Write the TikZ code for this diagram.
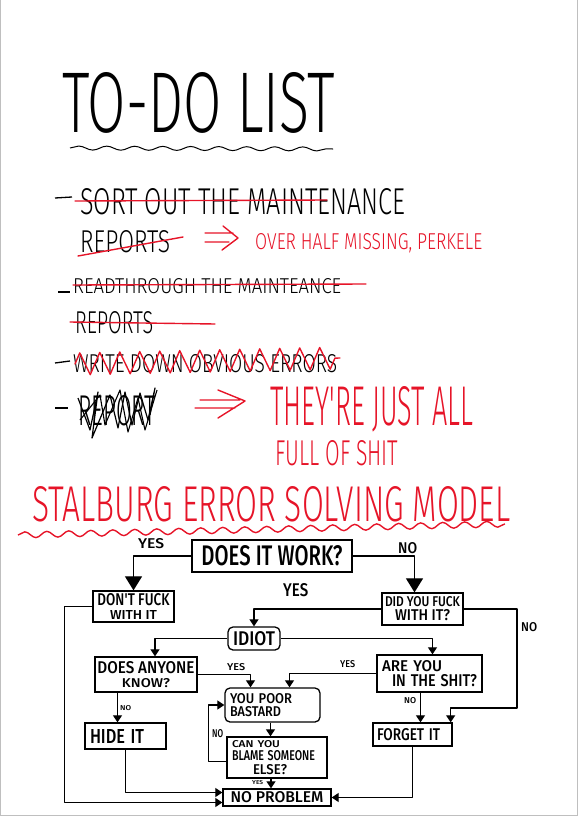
\documentclass[tikz,border=0pt]{standalone}
\usepackage{fontspec}
\usepackage{graphicx}
\usepackage{tikz}
\usetikzlibrary{arrows.meta}
\usetikzlibrary{decorations.pathmorphing}
\tikzset{>=latex}
\newfontfamily\handlight{Fira Sans Light}
\newfontfamily\handbold{Fira Sans Medium}
\definecolor{pen}{RGB}{230,20,40}
\newcommand\penlight[3]{\resizebox{#1pt}{#2pt}{\handlight #3}}
\newcommand\penbold[3]{\resizebox{#1pt}{#2pt}{\handbold #3}}

\begin{document}
\begin{tikzpicture}[x=1pt,y=-1pt,
    box/.style={draw, line width=1.3pt, inner sep=0pt, align=center, font=\fontsize{8}{8}\selectfont},
    flowarrow/.style={line width=1.2pt, line join=round, -{Triangle[width=9pt,length=7pt]}},
    bigarrow/.style={line width=1.2pt, line join=round, -{Triangle[width=17pt,length=14pt]}},
    ink/.style={inner sep=0pt, anchor=base west},
    strike/.style={pen, line width=1.4pt, line cap=round, line join=round}]
    \useasboundingbox (0,0) rectangle (578,816);
    \draw[black!25, line width=1pt] (0.5,0) -- (0.5,815.5) -- (577.5,815.5) -- (577.5,0);

    \node[ink] (title) at (62,132) {\penlight{273}{60}{TO-DO LIST}};
    \draw[line width=1pt, decorate, decoration={snake, amplitude=2pt, segment length=28pt}] (70,148) -- (333,149);

    \draw[line width=1.3pt] (55,198) -- (72,197);
    \node[ink] (sort) at (80,214) {\penlight{325}{26}{SORT OUT THE MAINTENANCE}};
    \node[ink] (reports1) at (80,252) {\penlight{90}{22}{REPORTS}};
    \draw[strike] (75,201) -- (327,200);
    \draw[strike] (78,256) -- (183,237);
    \draw[strike] (205,233) -- (233,233) (205,242) -- (229,242) (223,226) -- (238,238) -- (222,250);
    \node[ink, text=pen] (half) at (255,249) {\penlight{227}{16}{OVER HALF MISSING, PERKELE}};

    \draw[line width=1.3pt] (58,292) -- (70,292);
    \node[ink] (read) at (73,293) {\penlight{268}{15}{READTHROUGH THE MAINTEANCE}};
    \node[ink] (reports2) at (75,333) {\penlight{78}{22}{REPORTS}};
    \draw[strike] (73,285) -- (366,284);
    \draw[strike] (70,322) -- (215,324);

    \draw[line width=1.3pt] (55,363) -- (70,361);
    \node[ink] (write) at (73,372) {\penlight{264}{18}{WRITE DOWN OBVIOUS ERRORS}};
    \draw[strike, decorate, decoration={zigzag, amplitude=11pt, segment length=20pt}] (75,364) -- (340,358);

    \draw[line width=1.3pt] (55,408) -- (68,408);
    \node[ink] (reports3) at (78,425) {\penlight{78}{30}{REPORT}};
    \draw[line width=1.2pt, line join=round] (78,398) -- (90,430) -- (98,392) -- (92,438) -- (110,395) -- (118,428) -- (125,392) -- (132,425) -- (140,393) -- (148,420) -- (155,388) -- (150,415);
    \draw[line width=1.1pt, line join=round] (80,420) -- (100,395) -- (105,425) -- (120,390) -- (128,432) -- (138,398) -- (145,430) -- (157,390);
    \draw[strike] (200,400) -- (240,400) (195,408) -- (235,408) (218,390) -- (245,401) -- (218,418);
    \node[ink, text=pen] (they) at (270,425) {\penlight{203}{39}{THEY'RE JUST ALL}};
    \node[ink, text=pen] (full) at (275,465) {\penlight{123}{25}{FULL OF SHIT}};

    \node[ink, text=pen] (model) at (32,521) {\penlight{478}{35}{STALBURG ERROR SOLVING MODEL}};
    \draw[pen, line width=1.4pt, decorate, decoration={snake, amplitude=3pt, segment length=22pt}] (18,535) -- (505,524);

    \node[box, minimum width=160pt, minimum height=32pt] (work) at (272,556) {\penbold{141}{20}{DOES IT WORK?}};
    \node[box, minimum width=81pt, minimum height=31pt] (dontfuck) at (133.5,606.5) {\penbold{72}{12}{DON'T FUCK}\\[3pt]\penbold{47}{9}{WITH IT}};
    \node[box, minimum width=81pt, minimum height=32pt] (didfuck) at (422.5,609) {\penbold{75}{10}{DID YOU FUCK}\\[2pt]\penbold{55}{11}{WITH IT?}};
    \node[box, rounded corners=5pt, minimum width=52pt, minimum height=23pt] (idiot) at (254,638.5) {\penbold{42}{14}{IDIOT}};
    \node[box, minimum width=102pt, minimum height=35pt] (anyone) at (146,674.5) {\penbold{97}{12}{DOES ANYONE}\\[3pt]\penbold{48}{9}{KNOW?}};
    \node[box, minimum width=105pt, minimum height=37pt, inner xsep=5pt, text width=95pt, align=left] (inshit) at (429.5,673.5) {\penbold{60}{11}{ARE YOU}\\[2pt]\hspace*{10pt}\penbold{85}{12}{IN THE SHIT?}};
    \node[box, rounded corners=5pt, minimum width=95pt, minimum height=34pt, inner xsep=5pt, text width=85pt, align=left] (bastard) at (272.5,705) {\penbold{62}{10}{YOU POOR}\\[2pt]\penbold{51}{10}{BASTARD}};
    \node[box, minimum width=81pt, minimum height=26pt, inner xsep=5pt, text width=71pt, align=left] (hideit) at (125.5,736) {\penbold{54}{14}{HIDE IT}};
    \node[box, minimum width=79pt, minimum height=23pt, inner xsep=4pt, text width=71pt, align=left] (forget) at (412.5,734.5) {\penbold{63}{12}{FORGET IT}};
    \node[box, minimum width=100pt, minimum height=41pt, inner xsep=5pt, text width=90pt, align=left] (blame) at (277,757.5) {\penbold{48}{7}{CAN YOU}\\[2pt]\penbold{83}{10}{BLAME SOMEONE}\\[3pt]\hspace*{21pt}\penbold{34}{10}{ELSE?}};
    \node[box, minimum width=108pt, minimum height=17pt] (noproblem) at (277,797.5) {\penbold{93}{11}{NO PROBLEM}};
    \coordinate (noturn) at (517,708);

    \node[ink] (yes1) at (138,548) {\penbold{26}{10}{YES}};
    \node[ink] (no1) at (398,553) {\penbold{19}{11}{NO}};
    \node[ink] (yes2) at (283,596) {\penbold{25}{13}{YES}};
    \node[ink] (no2) at (521,631) {\penbold{16}{9}{NO}};
    \node[ink] (yes3) at (227,670) {\penbold{18}{7}{YES}};
    \node[ink] (yes4) at (340,667) {\penbold{15}{7}{YES}};
    \node[ink] (no3) at (120,710) {\penbold{11}{5}{NO}};
    \node[ink] (no4) at (404,703) {\penbold{12}{6}{NO}};
    \node[ink] (no5) at (212,737) {\penbold{11}{8}{NO}};
    \node[ink] (yes5) at (252,784) {\penbold{11}{4}{YES}};

    \draw[bigarrow] (work.west) -| (dontfuck.north);
    \draw[bigarrow] (work.east) -| ([xshift=-8pt]didfuck.north);
    \draw[flowarrow] (didfuck.west) -| (idiot.north);
    \draw[flowarrow] (didfuck.east) -| (noturn) -| ([xshift=-2pt]forget.north east);
    \draw[flowarrow] (idiot.west) -| ([xshift=9pt]anyone.north);
    \draw[flowarrow] (idiot.east) -| ([xshift=3pt]inshit.north);
    \draw[flowarrow] (anyone.east) -| ([xshift=-22pt]bastard.north);
    \draw[flowarrow] (inshit.west) -| ([xshift=17pt]bastard.north);
    \draw[flowarrow] ([xshift=-8pt]hideit.north |- anyone.south) -- ([xshift=-8pt]hideit.north);
    \draw[flowarrow] ([xshift=8pt]forget.north |- inshit.south) -- ([xshift=8pt]forget.north);
    \draw[flowarrow] ([xshift=-2pt]bastard.south) -- ([xshift=-2pt]bastard.south |- blame.north);
    \draw[flowarrow] ([yshift=-4pt]blame.west) -- ++(-18,0) |- (bastard.west);
    \draw[flowarrow] ([xshift=-6pt]blame.south) -- ([xshift=-6pt]blame.south |- noproblem.north);
    \draw[flowarrow] (hideit.south) |- ([yshift=5pt]noproblem.west);
    \draw[flowarrow] (dontfuck.west) -- ++(-28,0) |- ([yshift=-5pt]noproblem.west);
    \draw[flowarrow] (forget.south) |- (noproblem.east);
\end{tikzpicture}
\end{document}
